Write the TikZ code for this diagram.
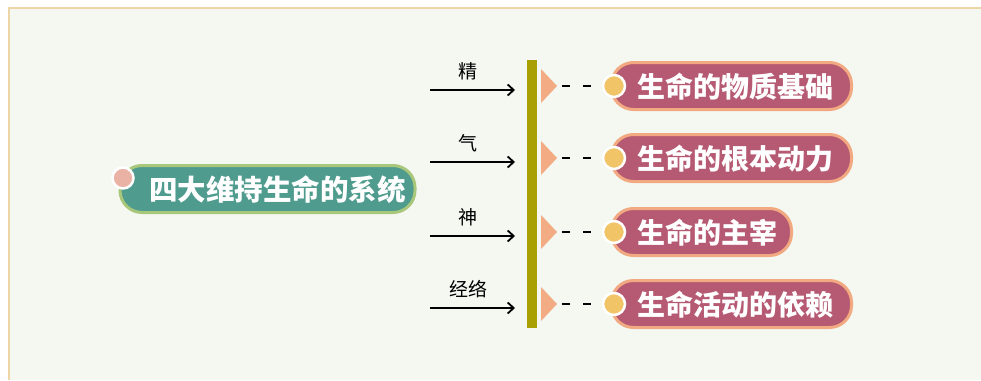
\documentclass[tikz,border=0pt]{standalone}
\usepackage{fontspec}
\newfontfamily\cjk{Noto Sans CJK SC}
\usetikzlibrary{arrows.meta}
\definecolor{bgc}{HTML}{F4F8F1}
\definecolor{framec}{HTML}{EDD5A6}
\definecolor{tealc}{HTML}{4F9B8E}
\definecolor{greenb}{HTML}{A9C77B}
\definecolor{pinkc}{HTML}{E9B2A4}
\definecolor{rosec}{HTML}{B65A73}
\definecolor{orangeb}{HTML}{F2A880}
\definecolor{yellowc}{HTML}{F2C468}
\definecolor{barc}{HTML}{A9A104}
\definecolor{tric}{HTML}{F2AB83}
\tikzset{
  mainbox/.style={draw=greenb, fill=tealc, line width=3pt, rounded corners=22pt, minimum height=47pt, inner sep=0pt},
  pill/.style={draw=orangeb, fill=rosec, line width=3pt, rounded corners=22pt, minimum height=47pt, inner sep=0pt},
  boxtext/.style={text=white, font=\cjk\bfseries\fontsize{28pt}{30pt}\selectfont, inner sep=0pt, anchor=west},
  lbl/.style={text=black, font=\cjk\fontsize{19pt}{21pt}\selectfont, inner sep=0pt},
  arr/.style={line width=1.6pt, -{Straight Barb[length=6pt,width=11pt,line width=1.8pt]}},
  dot/.style={circle, draw=white, line width=2.5pt, inner sep=0pt, minimum size=22pt},
  dashc/.style={line width=1.2pt, dash pattern=on 8pt off 13pt},
}
\begin{document}
\begin{tikzpicture}[x=1pt,y=-1pt]
\useasboundingbox (0,0) rectangle (981,380);
\fill[white] (0,0) rectangle (981,380);
\fill[bgc] (9,8) rectangle (981,380);
\draw[framec, line width=2.5pt] (9,380) -- (9,8) -- (981,8);
% main node
\node[mainbox, minimum width=295pt] (main) at (267.5,189) {};
\node[boxtext, font=\cjk\bfseries\fontsize{28.5pt}{30pt}\selectfont] (maintext) at (149,190) {四大维持生命的系统};
\node[dot, fill=pinkc, minimum size=21pt] (pinkdot) at (123,178) {};
% vertical bar
\fill[barc] (527,60) rectangle (537,328);
% rows
\foreach \i/\y/\lab/\w/\txt in {1/86/精/240/生命的物质基础, 2/158/气/240/生命的根本动力, 3/232/神/180/生命的主宰, 4/304/经络/240/生命活动的依赖}{
  \coordinate (as\i) at (430,\y+4);
  \coordinate (ae\i) at (515,\y+4);
  \draw[arr] (as\i) -- (ae\i);
  \node[lbl] (lbl\i) at (468,\y-15) {\lab};
  \fill[tric] (541,\y-17) -- (557,\y) -- (541,\y+17) -- cycle;
  \node[pill, minimum width=\w pt, anchor=west] (box\i) at (610,\y) {};
  \node[boxtext] (txt\i) at (637,\y+1) {\txt};
  \node[dot, fill=yellowc] (ydot\i) at (614,\y) {};
  \coordinate (ds\i) at (562,\y);
  \draw[dashc] (ds\i) -- (ydot\i.west);
}
\end{tikzpicture}
\end{document}
